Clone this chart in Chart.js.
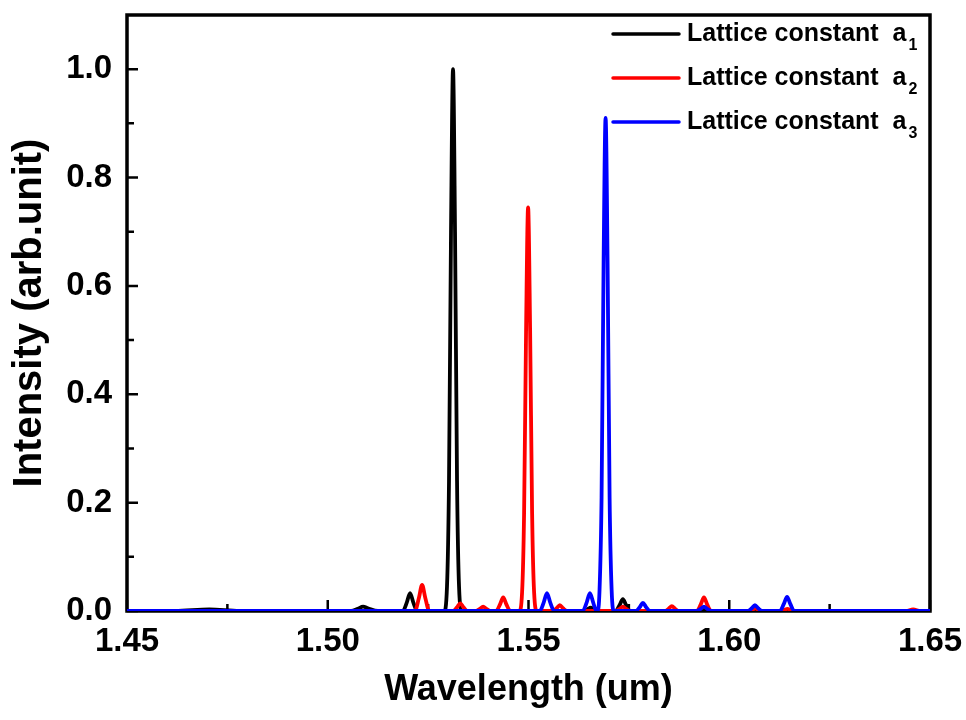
<!DOCTYPE html>
<html>
<head>
<meta charset="utf-8">
<title>Intensity vs wavelength</title>
<script src="https://cdn.jsdelivr.net/npm/chart.js@4/dist/chart.umd.min.js"></script>
<style>
  html, body { margin: 0; padding: 0; background: #fff; }
  canvas { display: block; }
</style>
</head>
<body>
<canvas id="spectrum" width="966" height="720"></canvas>
<script>
// spectra: [wavelength (um), intensity (arb. unit)]
var latticeA1 = [
  [1.4500, 0], [1.4620, 0], [1.4705, 0.003], [1.4780, 0],
  [1.5058, 0], [1.5075, 0.004], [1.5088, 0.008], [1.5100, 0.005], [1.5125, 0],
  [1.5187, 0], [1.5197, 0.016], [1.5205, 0.033], [1.5213, 0.016], [1.5223, 0],
  [1.5290, 0], [1.5297, 0.045], [1.5302, 0.24], [1.5307, 0.70], [1.5312, 1.0],
  [1.5317, 0.70], [1.5322, 0.24], [1.5327, 0.045], [1.5334, 0],
  [1.5637, 0], [1.5647, 0.003], [1.5655, 0.006], [1.5663, 0.003], [1.5673, 0],
  [1.5717, 0], [1.5727, 0.011], [1.5735, 0.022], [1.5743, 0.011], [1.5753, 0],
  [1.5919, 0], [1.5929, 0.003], [1.5937, 0.006], [1.5945, 0.003], [1.5955, 0],
  [1.6500, 0]
];
var latticeA2 = [
  [1.4500, 0],
  [1.5217, 0], [1.5227, 0.024], [1.5235, 0.048], [1.5243, 0.024], [1.5253, 0],
  [1.5312, 0], [1.5322, 0.007], [1.5330, 0.014], [1.5338, 0.007], [1.5348, 0],
  [1.5369, 0], [1.5379, 0.004], [1.5387, 0.008], [1.5395, 0.004], [1.5405, 0],
  [1.5419, 0], [1.5429, 0.012], [1.5437, 0.025], [1.5445, 0.012], [1.5455, 0],
  [1.5477, 0], [1.5484, 0.034], [1.5489, 0.18], [1.5494, 0.52], [1.5499, 0.745],
  [1.5504, 0.52], [1.5509, 0.18], [1.5514, 0.034], [1.5521, 0],
  [1.5560, 0], [1.5570, 0.005], [1.5578, 0.011], [1.5586, 0.005], [1.5596, 0],
  [1.5717, 0], [1.5727, 0.004], [1.5735, 0.008], [1.5743, 0.004], [1.5753, 0],
  [1.5839, 0], [1.5849, 0.004], [1.5857, 0.009], [1.5865, 0.004], [1.5875, 0],
  [1.5919, 0], [1.5929, 0.012], [1.5937, 0.025], [1.5945, 0.012], [1.5955, 0],
  [1.6047, 0], [1.6057, 0.002], [1.6065, 0.005], [1.6073, 0.002], [1.6083, 0],
  [1.6127, 0], [1.6137, 0.002], [1.6145, 0.004], [1.6153, 0.002], [1.6163, 0],
  [1.6440, 0], [1.6458, 0.003], [1.6476, 0], [1.6500, 0]
];
var latticeA3 = [
  [1.4500, 0],
  [1.5528, 0], [1.5538, 0.016], [1.5546, 0.033], [1.5554, 0.016], [1.5564, 0],
  [1.5635, 0], [1.5645, 0.016], [1.5653, 0.033], [1.5661, 0.016], [1.5669, 0],
  [1.5672, 0], [1.5677, 0.04], [1.5682, 0.21], [1.5687, 0.64], [1.5692, 0.91],
  [1.5697, 0.64], [1.5702, 0.21], [1.5707, 0.04], [1.5713, 0],
  [1.5767, 0], [1.5777, 0.007], [1.5785, 0.015], [1.5793, 0.007], [1.5803, 0],
  [1.5919, 0], [1.5929, 0.004], [1.5937, 0.008], [1.5945, 0.004], [1.5955, 0],
  [1.6046, 0], [1.6056, 0.005], [1.6064, 0.011], [1.6072, 0.005], [1.6082, 0],
  [1.6126, 0], [1.6136, 0.013], [1.6144, 0.026], [1.6152, 0.013], [1.6162, 0],
  [1.6500, 0]
];

var seriesNames = ['Lattice constant  a', 'Lattice constant  a', 'Lattice constant  a'];
var seriesSubs = ['1', '2', '3'];
var seriesColors = ['#000000', '#ff0000', '#0000ff'];

var xTicks = [1.45, 1.50, 1.55, 1.60, 1.65];
var xMinorTicks = [1.475, 1.525, 1.575, 1.625];
var yTicks = [0.0, 0.2, 0.4, 0.6, 0.8, 1.0];
var yMinorTicks = [0.1, 0.3, 0.5, 0.7, 0.9];

var FONT = "'Liberation Sans', Arial, sans-serif";

function toPoints(rows) {
  return rows.map(function (r) { return { x: r[0], y: r[1] }; });
}

// frame, inward ticks and the legend are drawn by hand
var frameAndLegend = {
  id: 'frameAndLegend',
  beforeDatasetsDraw: function (chart) {
    var ctx = chart.ctx, a = chart.chartArea;
    var x = chart.scales.x, y = chart.scales.y;
    ctx.save();
    ctx.strokeStyle = '#000';
    ctx.lineWidth = 2.5;
    ctx.beginPath();
    xTicks.forEach(function (v) {
      var px = x.getPixelForValue(v);
      ctx.moveTo(px, a.bottom); ctx.lineTo(px, a.bottom - 11);
    });
    xMinorTicks.forEach(function (v) {
      var px = x.getPixelForValue(v);
      ctx.moveTo(px, a.bottom); ctx.lineTo(px, a.bottom - 7);
    });
    yTicks.forEach(function (v) {
      var py = y.getPixelForValue(v);
      ctx.moveTo(a.left, py); ctx.lineTo(a.left + 11, py);
    });
    yMinorTicks.forEach(function (v) {
      var py = y.getPixelForValue(v);
      ctx.moveTo(a.left, py); ctx.lineTo(a.left + 7, py);
    });
    ctx.stroke();
    ctx.lineWidth = 3.5;
    ctx.strokeRect(a.left, a.top, a.right - a.left, a.bottom - a.top);
    ctx.restore();
  },
  afterDatasetsDraw: function (chart) {
    var ctx = chart.ctx, a = chart.chartArea;
    var x0 = a.left + 486, rowY = a.top + 19, step = 44;
    ctx.save();
    chart.data.datasets.forEach(function (ds, i) {
      var cy = rowY + i * step;
      ctx.strokeStyle = ds.borderColor;
      ctx.lineWidth = 3.5;
      ctx.lineCap = 'round';
      ctx.beginPath();
      ctx.moveTo(x0, cy); ctx.lineTo(x0 + 66, cy);
      ctx.stroke();
      ctx.fillStyle = '#000';
      ctx.textBaseline = 'middle';
      ctx.font = 'bold 25px ' + FONT;
      ctx.fillText(seriesNames[i], x0 + 74, cy);
      var w = ctx.measureText(seriesNames[i]).width;
      ctx.font = 'bold 16px ' + FONT;
      ctx.fillText(seriesSubs[i], x0 + 74 + w + 2, cy + 12);
    });
    ctx.restore();
  }
};

var datasets = [latticeA1, latticeA2, latticeA3].map(function (rows, i) {
  return {
    label: seriesNames[i] + seriesSubs[i],
    data: toPoints(rows),
    borderColor: seriesColors[i],
    backgroundColor: seriesColors[i],
    borderWidth: 3.8,
    pointRadius: 0,
    cubicInterpolationMode: 'monotone',
    order: 3 - i
  };
});

var ctx = document.getElementById('spectrum').getContext('2d');
var myChart = new Chart(ctx, {
  type: 'line',
  data: { datasets: datasets },
  plugins: [frameAndLegend],
  options: {
    responsive: false,
    animation: false,
    layout: { padding: { top: 15, right: 36, left: 0, bottom: 0 } },
    plugins: { legend: { display: false }, tooltip: { enabled: false } },
    scales: {
      x: {
        type: 'linear',
        min: 1.45,
        max: 1.65,
        afterBuildTicks: function (s) { s.ticks = xTicks.map(function (v) { return { value: v }; }); },
        afterFit: function (s) { s.height = 109; s.paddingLeft = 0; s.paddingRight = 0; },
        grid: { display: false, drawTicks: false },
        border: { display: false },
        ticks: {
          color: '#000',
          padding: 11,
          maxRotation: 0,
          font: { family: FONT, size: 33, weight: 'bold' },
          callback: function (v) { return Number(v).toFixed(2); }
        },
        title: {
          display: true,
          text: 'Wavelength (um)',
          color: '#000',
          padding: { top: 0, bottom: 8 },
          font: { family: FONT, size: 36, weight: 'bold' }
        }
      },
      y: {
        type: 'linear',
        min: 0,
        max: 1.1,
        afterBuildTicks: function (s) { s.ticks = yTicks.map(function (v) { return { value: v }; }); },
        afterFit: function (s) { s.width = 127; s.paddingTop = 0; s.paddingBottom = 0; },
        grid: { display: false, drawTicks: false },
        border: { display: false },
        ticks: {
          color: '#000',
          padding: 15,
          font: { family: FONT, size: 33, weight: 'bold' },
          callback: function (v) { return Number(v).toFixed(1); }
        },
        title: {
          display: true,
          text: 'Intensity (arb.unit)',
          color: '#000',
          padding: { top: 6, bottom: 0 },
          font: { family: FONT, size: 40, weight: 'bold' }
        }
      }
    }
  }
});
</script>
</body>
</html>
